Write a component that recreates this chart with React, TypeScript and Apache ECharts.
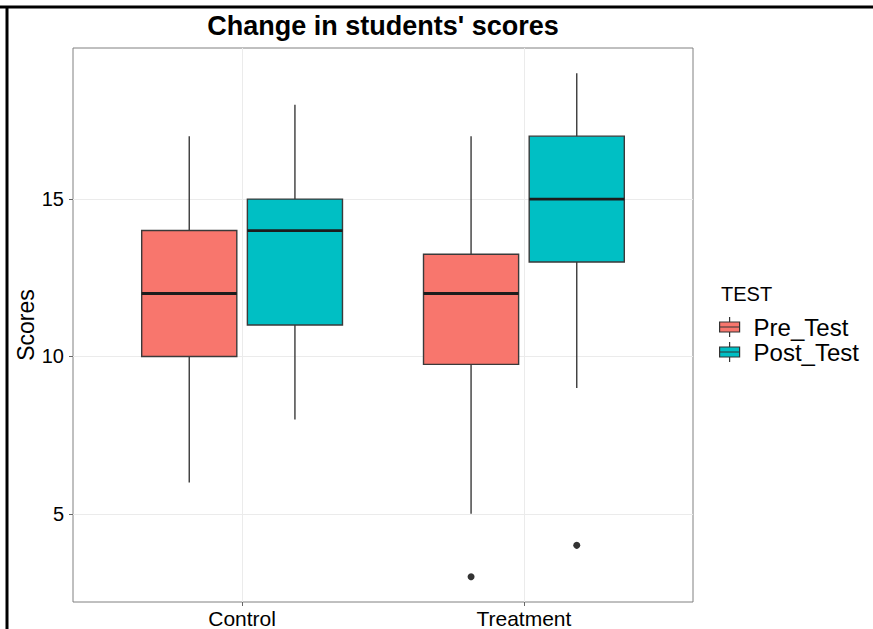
import React, { useEffect, useRef } from "react";
import * as echarts from "echarts";

const categories = ["Control", "Treatment"];
const groups = ["Pre_Test", "Post_Test"];
// five-number summaries per category: [min, Q1, median, Q3, max]
const preTest = [
  [6, 10, 12, 14, 17],
  [5, 9.75, 12, 13.25, 17],
];
const postTest = [
  [8, 11, 14, 15, 18],
  [9, 13, 15, 17, 19],
];
const preOutliers = [[], [3]];
const postOutliers = [[], [4]];
const yTicks = [5, 10, 15];
const xTicks = [1, 2];

const FONT = "'Liberation Sans', Arial, Helvetica, sans-serif";
const COLORS = ["#F8766D", "#00BFC4"];
const DODGE = 0.1875;
const HALF = 0.16875;
const LINE = "#3a3a3a";

function boxSeries(name: string, stats: number[][], offset: number, color: string) {
  return {
    type: "custom",
    name,
    xAxisIndex: 0,
    yAxisIndex: 0,
    itemStyle: { color, borderColor: "#333", borderWidth: 1 },
    encode: { x: 0, y: [1, 2, 3, 4, 5] },
    data: stats.map((s, i) => [i + 1 + offset, ...s]),
    renderItem: (params: any, api: any) => {
      const x = api.value(0);
      const mn = api.value(1);
      const q1 = api.value(2);
      const md = api.value(3);
      const q3 = api.value(4);
      const mx = api.value(5);
      const pMax = api.coord([x, mx]);
      const pQ3 = api.coord([x, q3]);
      const pQ1 = api.coord([x, q1]);
      const pMin = api.coord([x, mn]);
      const tl = api.coord([x - HALF, q3]);
      const br = api.coord([x + HALF, q1]);
      const ml = api.coord([x - HALF, md]);
      const mr = api.coord([x + HALF, md]);
      return {
        type: "group",
        children: [
          {
            type: "line",
            shape: { x1: pMax[0], y1: pMax[1], x2: pQ3[0], y2: pQ3[1] },
            style: { stroke: LINE, lineWidth: 1.4 },
          },
          {
            type: "line",
            shape: { x1: pQ1[0], y1: pQ1[1], x2: pMin[0], y2: pMin[1] },
            style: { stroke: LINE, lineWidth: 1.4 },
          },
          {
            type: "rect",
            shape: { x: tl[0], y: tl[1], width: br[0] - tl[0], height: br[1] - tl[1] },
            style: { fill: color, stroke: LINE, lineWidth: 1.4 },
          },
          {
            type: "line",
            shape: { x1: ml[0], y1: ml[1], x2: mr[0], y2: mr[1] },
            style: { stroke: "#1c1c1c", lineWidth: 2.8 },
          },
        ],
      };
    },
  };
}

function outlierSeries(name: string, outs: number[][], offset: number) {
  const data: number[][] = [];
  outs.forEach((arr, i) => arr.forEach((v) => data.push([i + 1 + offset, v])));
  return {
    type: "scatter",
    name,
    data,
    symbol: "circle",
    symbolSize: 7,
    itemStyle: { color: "#333", opacity: 1 },
    z: 5,
  };
}

export default function App() {
  const ref = useRef<HTMLDivElement>(null);
  useEffect(() => {
    if (!ref.current) return;
    const chart = echarts.init(ref.current, null, { renderer: "svg" });
    const legendIcon = "path://M10,0V5M0,5H20V15H0ZM0,10H20M10,15V20";
    chart.setOption({
      animation: false,
      backgroundColor: "#ffffff",
      textStyle: { fontFamily: FONT },
      grid: {
        left: 73,
        right: 180,
        top: 48,
        bottom: 27,
        show: true,
        borderColor: "#808080",
        borderWidth: 1,
        backgroundColor: "transparent",
        containLabel: false,
        outerBoundsMode: "none",
      },
      xAxis: {
        type: "value",
        min: 0.4,
        max: 2.6,
        axisLine: { show: false },
        axisTick: { show: true, customValues: xTicks, length: 4, lineStyle: { color: "#666", width: 1 } },
        axisLabel: {
          show: true,
          customValues: xTicks,
          formatter: (v: number) => categories[Math.round(v) - 1] ?? "",
          fontSize: 21,
          color: "#000",
          fontFamily: FONT,
          margin: 6,
        },
        splitLine: { show: true, lineStyle: { color: "#ebebeb", width: 1 } },
      },
      yAxis: {
        type: "value",
        min: 2.2,
        max: 19.8,
        axisLine: { show: false },
        axisTick: { show: true, customValues: yTicks, length: 4, lineStyle: { color: "#666", width: 1 } },
        axisLabel: {
          show: true,
          customValues: yTicks,
          fontSize: 20,
          color: "#000",
          fontFamily: FONT,
          margin: 9,
        },
        splitLine: { show: true, lineStyle: { color: "#ebebeb", width: 1 } },
        name: "Scores",
        nameLocation: "middle",
        nameGap: 36,
        nameMoveOverlap: false,
        nameTextStyle: { fontSize: 23, color: "#000", fontFamily: FONT },
      },
      legend: {
        orient: "vertical",
        left: 719,
        top: 315,
        padding: 0,
        itemWidth: 20,
        itemHeight: 20,
        itemGap: 1,
        selectedMode: false,
        textStyle: { fontSize: 24, color: "#000", fontFamily: FONT, padding: [0, 0, 0, 9] },
        data: groups.map((g, i) => ({
          name: g,
          icon: legendIcon,
          itemStyle: { color: COLORS[i], borderColor: "#333", borderWidth: 1.2 },
        })),
      },
      graphic: [
        {
          type: "text",
          x: 383,
          y: 12,
          style: {
            text: "Change in students' scores",
            font: `bold 27px ${FONT}`,
            fill: "#000",
            textAlign: "center",
            textVerticalAlign: "top",
          },
        },
        {
          type: "text",
          x: 721,
          y: 284,
          style: {
            text: "TEST",
            font: `20px ${FONT}`,
            fill: "#000",
            textAlign: "left",
            textVerticalAlign: "top",
          },
        },
        {
          type: "line",
          shape: { x1: 0, y1: 7, x2: 873, y2: 7 },
          style: { stroke: "#000", lineWidth: 3 },
        },
        {
          type: "line",
          shape: { x1: 7, y1: 7, x2: 7, y2: 629 },
          style: { stroke: "#000", lineWidth: 3 },
        },
      ],
      series: [
        boxSeries(groups[0], preTest, -DODGE, COLORS[0]),
        boxSeries(groups[1], postTest, DODGE, COLORS[1]),
        outlierSeries("Pre_Test outliers", preOutliers, -DODGE),
        outlierSeries("Post_Test outliers", postOutliers, DODGE),
      ],
    });
    return () => chart.dispose();
  }, []);
  return (
    <div
      ref={ref}
      style={{ position: "absolute", left: 0, top: 0, width: 873, height: 629, background: "#fff" }}
    />
  );
}
